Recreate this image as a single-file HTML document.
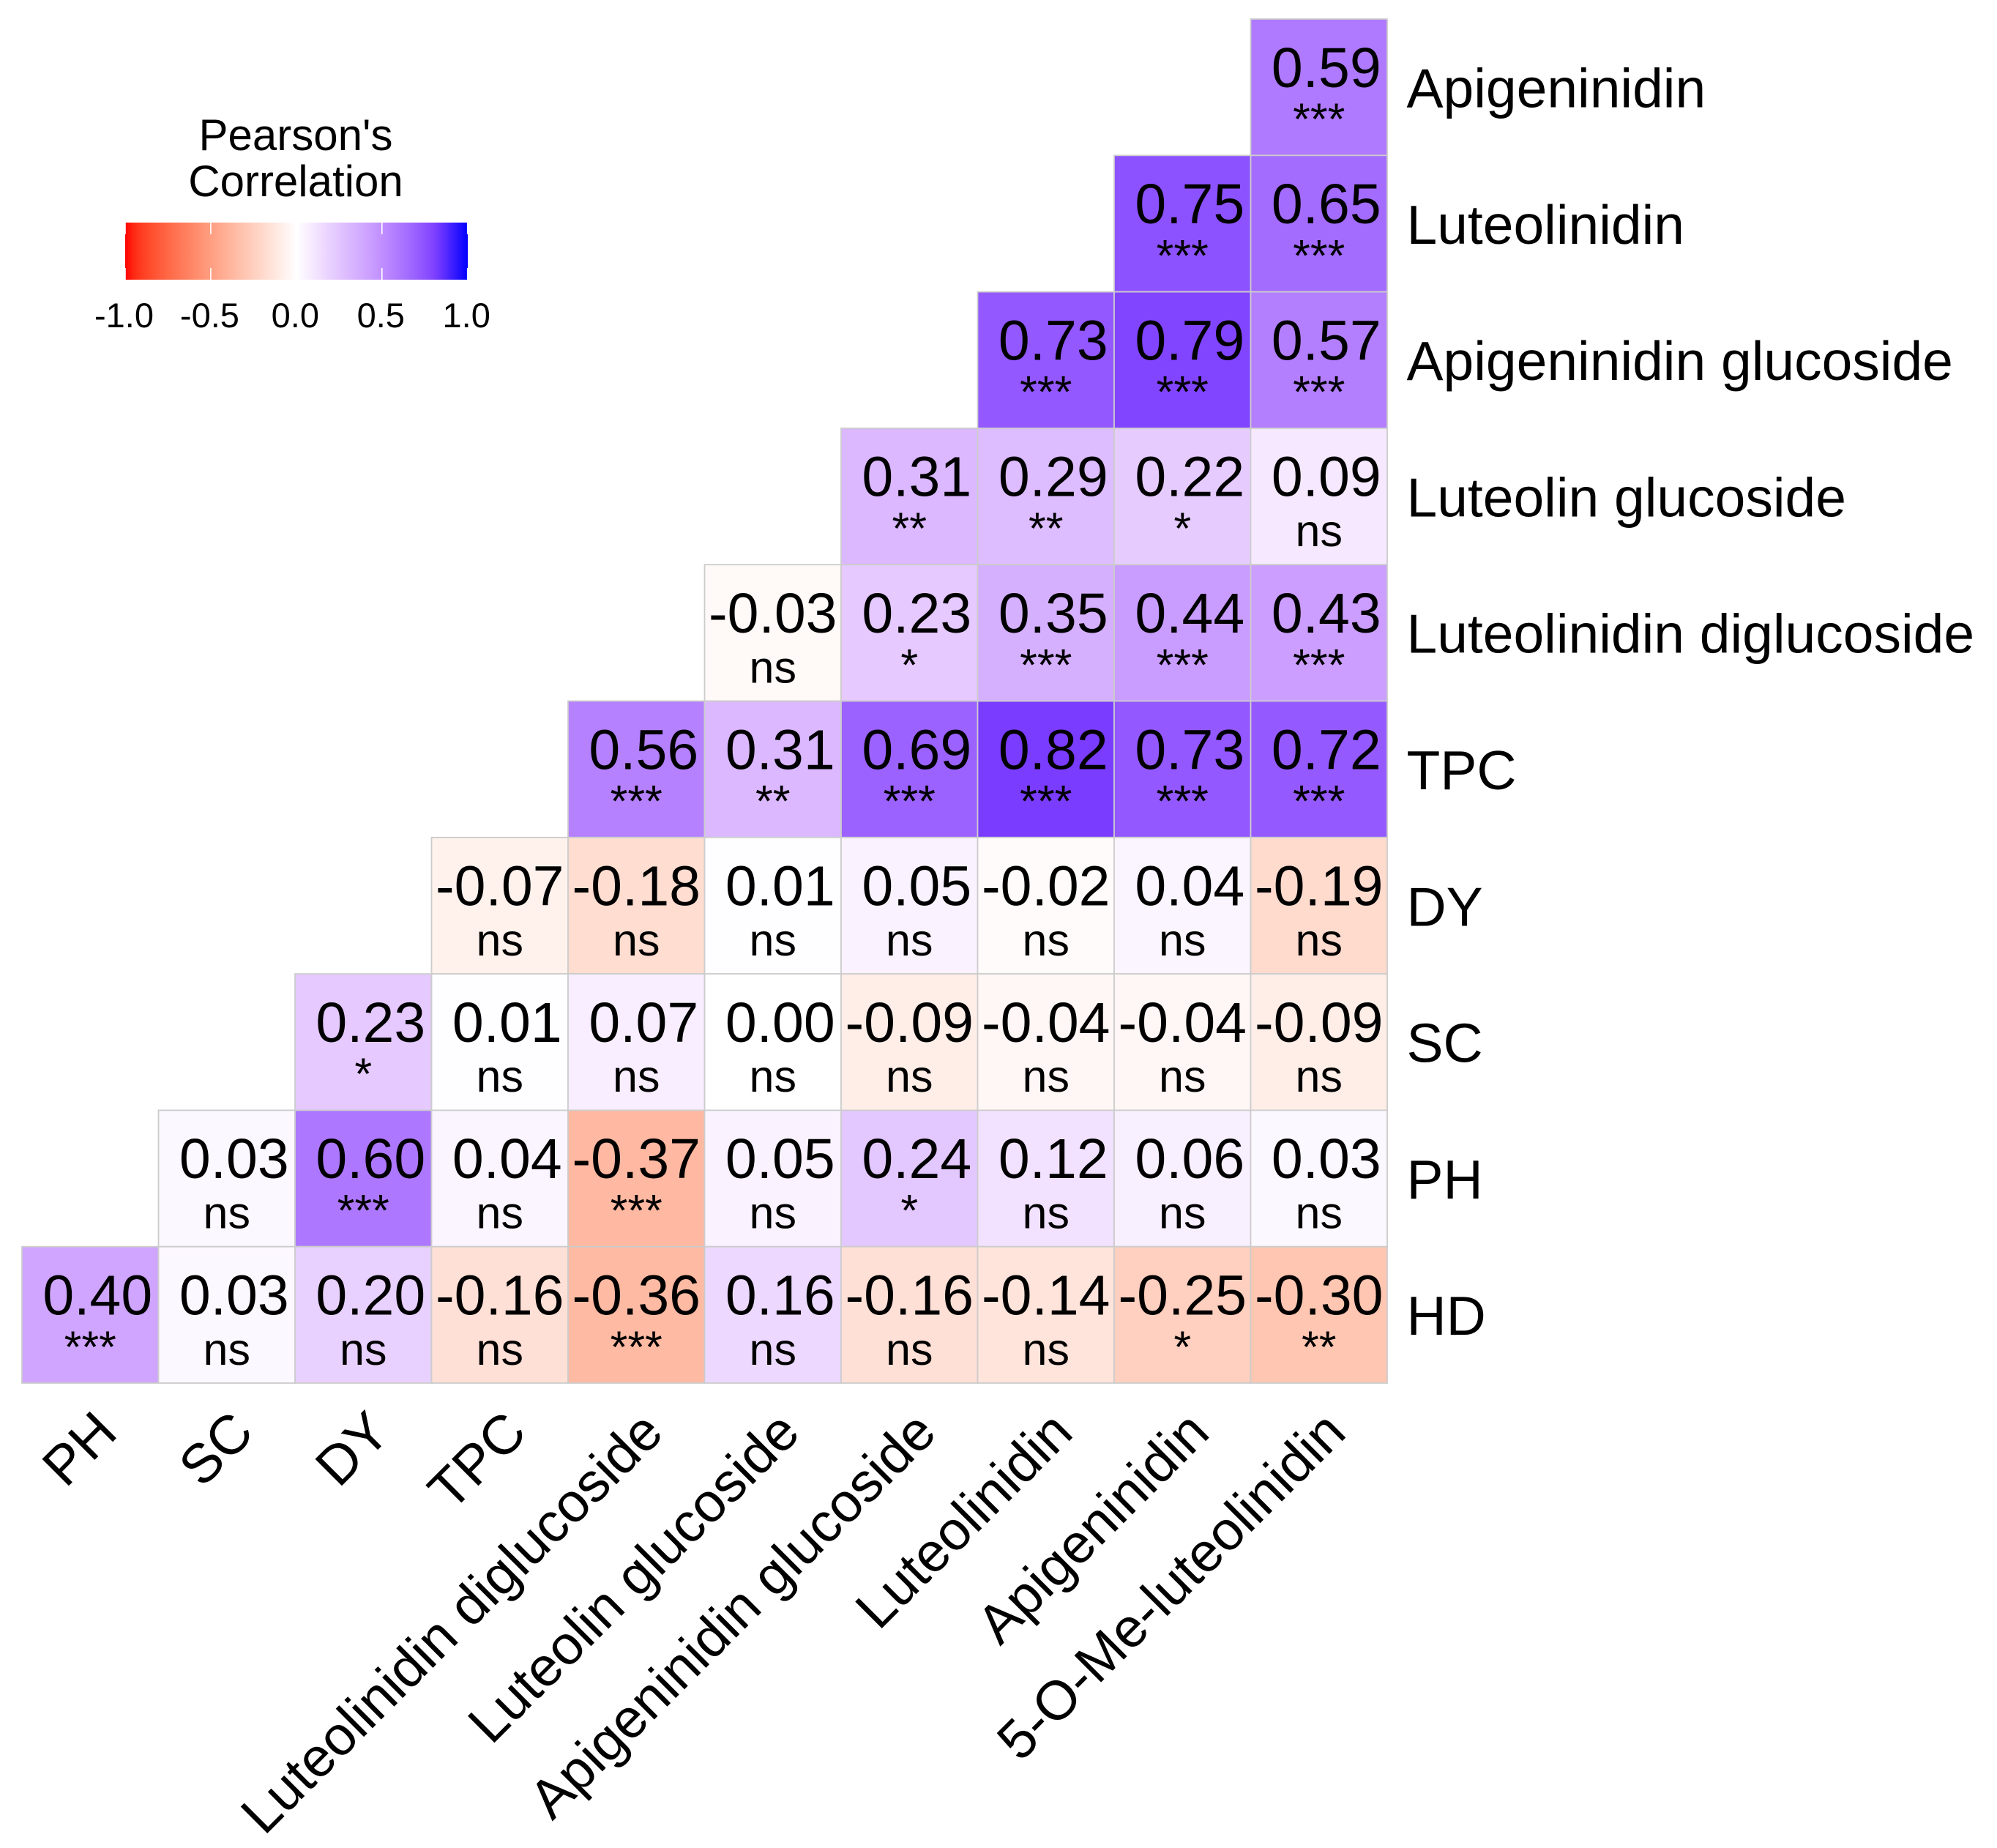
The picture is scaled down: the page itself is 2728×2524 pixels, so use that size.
<!DOCTYPE html>
<html lang="en">
<head>
<meta charset="utf-8">
<title>Pearson's Correlation Heatmap</title>
<style>
  html, body { margin: 0; padding: 0; background: #fff; }
  svg { display: block; font-family: "Liberation Sans", Arial, sans-serif; fill: #000; }
</style>
</head>
<body>
<svg id="chart" xmlns="http://www.w3.org/2000/svg" width="2728" height="2524" viewBox="0 0 2728 2524">
  <defs><linearGradient id="legend-gradient" x1="0" x2="1" y1="0" y2="0"></linearGradient></defs>
  <rect width="2728" height="2524" fill="#fff"/>
  <g id="cells"></g>
  <g id="y-labels"></g>
  <g id="x-labels"></g>
  <g id="legend">
    <text x="404" y="205" text-anchor="middle" font-size="60">Pearson's</text>
    <text x="404" y="268" text-anchor="middle" font-size="60">Correlation</text>
    <rect x="171" y="304" width="468" height="78" fill="url(#legend-gradient)"/>
  </g>
</svg>
<script>
const xLabels = ["PH", "SC", "DY", "TPC", "Luteolinidin diglucoside", "Luteolin glucoside", "Apigeninidin glucoside", "Luteolinidin", "Apigeninidin", "5-O-Me-luteolinidin"];
const yLabels = ["Apigeninidin", "Luteolinidin", "Apigeninidin glucoside", "Luteolin glucoside", "Luteolinidin diglucoside", "TPC", "DY", "SC", "PH", "HD"];
const rowValues = [
  [0.59],
  [0.75, 0.65],
  [0.73, 0.79, 0.57],
  [0.31, 0.29, 0.22, 0.09],
  [-0.03, 0.23, 0.35, 0.44, 0.43],
  [0.56, 0.31, 0.69, 0.82, 0.73, 0.72],
  [-0.07, -0.18, 0.01, 0.05, -0.02, 0.04, -0.19],
  [0.23, 0.01, 0.07, 0.00, -0.09, -0.04, -0.04, -0.09],
  [0.03, 0.60, 0.04, -0.37, 0.05, 0.24, 0.12, 0.06, 0.03],
  [0.40, 0.03, 0.20, -0.16, -0.36, 0.16, -0.16, -0.14, -0.25, -0.30]
];
const rowSignificance = [
  ["***"],
  ["***", "***"],
  ["***", "***", "***"],
  ["**", "**", "*", "ns"],
  ["ns", "*", "***", "***", "***"],
  ["***", "**", "***", "***", "***", "***"],
  ["ns", "ns", "ns", "ns", "ns", "ns", "ns"],
  ["*", "ns", "ns", "ns", "ns", "ns", "ns", "ns"],
  ["ns", "***", "ns", "***", "ns", "*", "ns", "ns", "ns"],
  ["***", "ns", "ns", "ns", "***", "ns", "ns", "ns", "*", "**"]
];
const legendTicks = [-1.0, -0.5, 0.0, 0.5, 1.0];
const rampLevels = [0, 0.09, 0.22, 0.40, 0.50, 0.60, 0.73, 0.82, 1];
const rampColors = [[255,255,255], [246,233,255], [230,203,255], [207,165,255], [192,142,255], [173,120,255], [147,88,255], [122,60,255], [0,0,255]];

const NS = "http://www.w3.org/2000/svg";
const plotLeft = 30, plotRight = 1895, plotTop = 26, plotBottom = 1889;
const legendLeft = 171, legendRight = 638.7;
const colWidth = (plotRight - plotLeft) / xLabels.length;
const rowHeight = (plotBottom - plotTop) / yLabels.length;
const xScale = i => plotLeft + i * colWidth;
const yScale = j => plotTop + j * rowHeight;
const legendScale = v => legendLeft + (v + 1) / 2 * (legendRight - legendLeft);

function srgbToLab(rgb) {
  const lin = rgb.map(c => { c /= 255; return c <= 0.04045 ? c / 12.92 : Math.pow((c + 0.055) / 1.055, 2.4); });
  const X = (0.4124564 * lin[0] + 0.3575761 * lin[1] + 0.1804375 * lin[2]) / 0.95047;
  const Y = 0.2126729 * lin[0] + 0.7151522 * lin[1] + 0.0721750 * lin[2];
  const Z = (0.0193339 * lin[0] + 0.1191920 * lin[1] + 0.9503041 * lin[2]) / 1.08883;
  const f = t => t > 0.008856 ? Math.cbrt(t) : 7.787 * t + 16 / 116;
  return [116 * f(Y) - 16, 500 * (f(X) - f(Y)), 200 * (f(Y) - f(Z))];
}
function labToCss(lab) {
  const fy = (lab[0] + 16) / 116, fx = fy + lab[1] / 500, fz = fy - lab[2] / 200;
  const g = t => t * t * t > 0.008856 ? t * t * t : (t - 16 / 116) / 7.787;
  const X = g(fx) * 0.95047, Y = g(fy), Z = g(fz) * 1.08883;
  const lin = [
    3.2404542 * X - 1.5371385 * Y - 0.4985314 * Z,
    -0.9692660 * X + 1.8760108 * Y + 0.0415560 * Z,
    0.0556434 * X - 0.2040259 * Y + 1.0572252 * Z
  ];
  const out = lin.map(c => {
    c = Math.max(0, Math.min(1, c));
    const s = c <= 0.0031308 ? 12.92 * c : 1.055 * Math.pow(c, 1 / 2.4) - 0.055;
    return Math.round(s * 255);
  });
  return "rgb(" + out.join(",") + ")";
}
const labWhite = srgbToLab([255, 255, 255]);
const labRed = srgbToLab([255, 0, 0]);
function colorScale(v) {
  if (v < 0) {
    const t = Math.min(1, -v);
    return labToCss(labWhite.map((w, k) => w + (labRed[k] - w) * t));
  }
  const t = Math.min(1, v);
  let i = 0;
  while (i < rampLevels.length - 2 && t > rampLevels[i + 1]) i++;
  const f = (t - rampLevels[i]) / (rampLevels[i + 1] - rampLevels[i]);
  const rgb = rampColors[i].map((c, k) => Math.round(c + (rampColors[i + 1][k] - c) * f));
  return "rgb(" + rgb.join(",") + ")";
}

const cellsGroup = document.getElementById("cells");
rowValues.forEach((row, r) => {
  const offset = xLabels.length - row.length;
  row.forEach((value, k) => {
    const c = offset + k;
    const g = document.createElementNS(NS, "g");
    
    

    const rect = document.createElementNS(NS, "rect");
    
    
    rect.setAttribute("x", xScale(c));
    rect.setAttribute("y", yScale(r));
    rect.setAttribute("width", colWidth);
    rect.setAttribute("height", rowHeight);
    rect.setAttribute("fill", colorScale(value));
    rect.setAttribute("stroke", "#cccccc");
    rect.setAttribute("stroke-width", "1.8");
    g.appendChild(rect);

    const cx = xScale(c) + colWidth / 2;
    const valueText = document.createElementNS(NS, "text");
    
    
    valueText.setAttribute("x", value < 0 ? cx : cx + 10);
    valueText.setAttribute("y", yScale(r) + rowHeight * 0.514 - 3);
    valueText.setAttribute("text-anchor", "middle");
    valueText.setAttribute("font-size", "77");
    valueText.textContent = value.toFixed(2);
    g.appendChild(valueText);

    const sig = rowSignificance[r][k];
    const sigText = document.createElementNS(NS, "text");
    
    
    sigText.setAttribute("x", cx);
    sigText.setAttribute("y", yScale(r) + rowHeight * 0.878 - (sig === "ns" ? 2.5 : 6));
    sigText.setAttribute("text-anchor", "middle");
    sigText.setAttribute("font-size", "61");
    sigText.textContent = sig;
    g.appendChild(sigText);

    cellsGroup.appendChild(g);
  });
});

const yGroup = document.getElementById("y-labels");
yLabels.forEach((label, r) => {
  const t = document.createElementNS(NS, "text");
  
  
  t.setAttribute("x", plotRight + 26.5);
  t.setAttribute("y", yScale(r) + rowHeight * 0.66 - 2.5);
  t.setAttribute("font-size", "75");
  t.textContent = label;
  yGroup.appendChild(t);
});

const xGroup = document.getElementById("x-labels");
xLabels.forEach((label, c) => {
  const t = document.createElementNS(NS, "text");
  const ax = xScale(c) + colWidth / 2 + 40;
  const ay = plotBottom + 71;
  
  
  t.setAttribute("x", ax);
  t.setAttribute("y", ay);
  t.setAttribute("text-anchor", "end");
  t.setAttribute("font-size", "75");
  t.setAttribute("transform", "rotate(-45 " + ax + " " + ay + ")");
  t.textContent = label;
  xGroup.appendChild(t);
});

const gradient = document.getElementById("legend-gradient");
for (let s = 0; s <= 40; s++) {
  const stop = document.createElementNS(NS, "stop");
  stop.setAttribute("offset", (s / 40 * 100) + "%");
  stop.setAttribute("stop-color", colorScale(s / 20 - 1));
  gradient.appendChild(stop);
}

const legendGroup = document.getElementById("legend");
legendTicks.forEach(tick => {
  const px = legendScale(tick);
  [[304, 320], [366, 382]].forEach(span => {
    const line = document.createElementNS(NS, "line");
    
    
    line.setAttribute("x1", px);
    line.setAttribute("x2", px);
    line.setAttribute("y1", span[0]);
    line.setAttribute("y2", span[1]);
    line.setAttribute("stroke", "#fff");
    line.setAttribute("stroke-width", "1.6");
    legendGroup.appendChild(line);
  });
  const label = document.createElementNS(NS, "text");
  
  
  label.setAttribute("x", px - 1.5);
  label.setAttribute("y", 447);
  label.setAttribute("text-anchor", "middle");
  label.setAttribute("font-size", "47");
  label.textContent = tick.toFixed(1);
  legendGroup.appendChild(label);
});
</script>
</body>
</html>
